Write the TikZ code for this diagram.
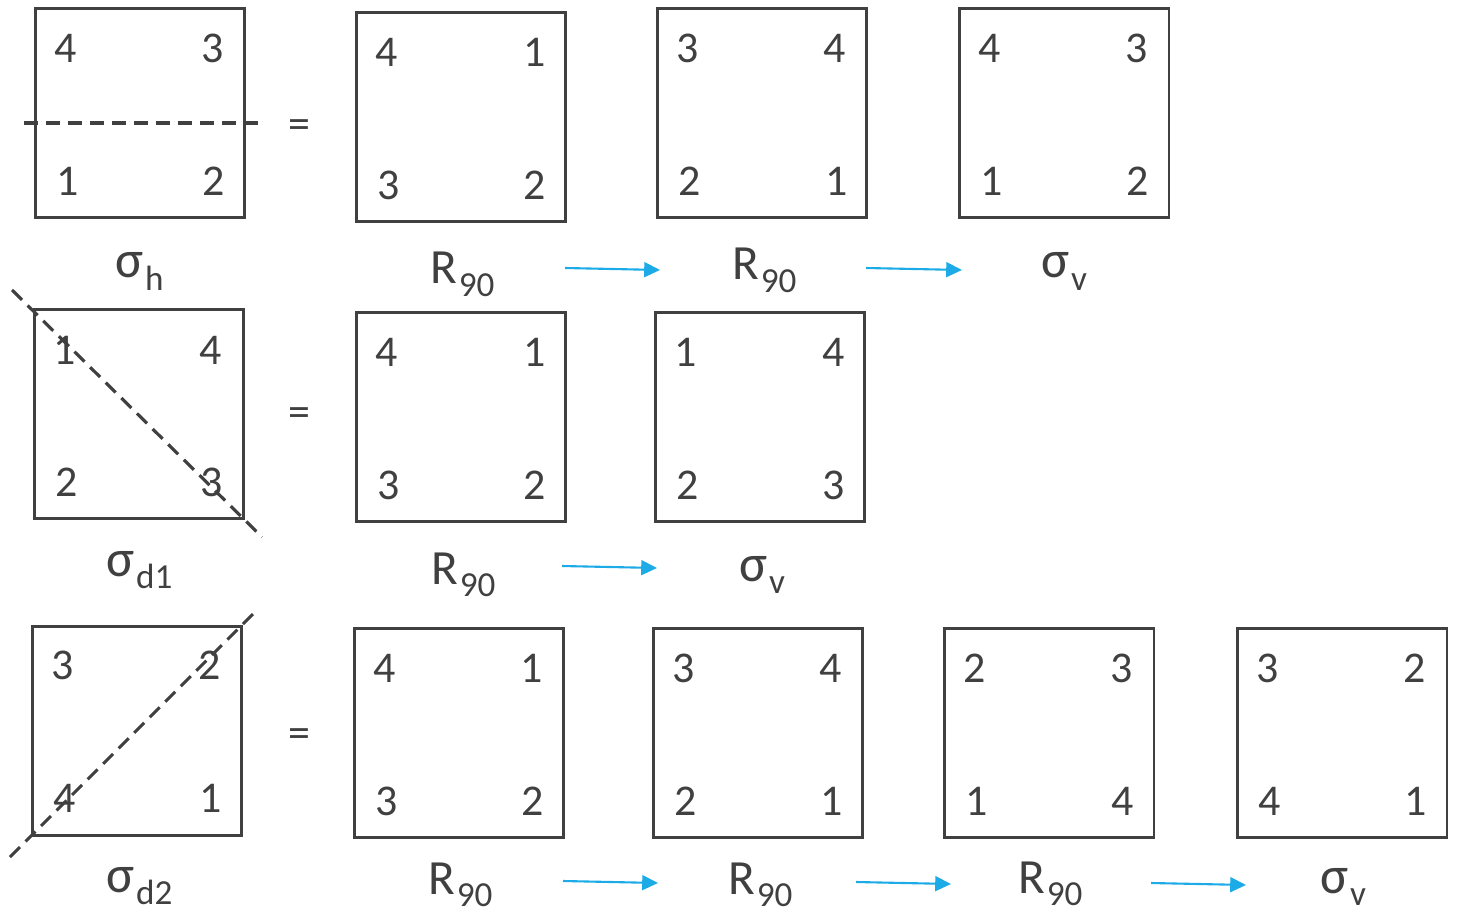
\documentclass[tikz,border=0pt]{standalone}
\usepackage{fontspec}
\setmainfont{Carlito}
\usetikzlibrary{arrows.meta}
\definecolor{ink}{HTML}{404040}
\definecolor{arr}{HTML}{1CABE6}
\tikzset{
  sq/.style={draw=ink, line width=1.7pt, minimum width=4.2cm, minimum height=4.2cm, inner sep=0pt},
  num/.style={text=ink, font=\fontsize{25}{30}\selectfont, inner sep=0pt},
  lab/.style={text=ink, font=\fontsize{28}{32}\selectfont, inner sep=0pt, anchor=base west},
  mir/.style={draw=ink, line width=1.8pt, dash pattern=on 8pt off 4.5pt},
  flow/.style={draw=arr, line width=1.2pt, -{Triangle[length=9pt,width=8.5pt]}},
}
\newcommand{\sub}[1]{\kern1pt\raisebox{-7pt}{\fontsize{20}{24}\selectfont #1}}
\newcommand{\sig}{{\fontsize{30}{32}\selectfont σ}}
\begin{document}
\begin{tikzpicture}[x=0.02cm,y=-0.02cm]
\useasboundingbox (0,0) rectangle (1463,915);
% ---------- row 1 ----------
\node[sq] (a1) at (140,113) {};
\draw[mir] (24,123) -- (262,123);
\node[num] (a1n1) at (66,48) {4};
\node[num] (a1n2) at (213,48) {3};
\node[num] (a1n3) at (68,181) {1};
\node[num] (a1n4) at (214,181) {2};
\node[num] (eq1) at (299,129) {=};
\node[sq] (a2) at (461,117) {};
\node[num] (a2n1) at (387,52) {4};
\node[num] (a2n2) at (535,52) {1};
\node[num] (a2n3) at (389,185) {3};
\node[num] (a2n4) at (535,185) {2};
\node[sq] (a3) at (762,113) {};
\node[num] (a3n1) at (688,48) {3};
\node[num] (a3n2) at (835,48) {4};
\node[num] (a3n3) at (690,181) {2};
\node[num] (a3n4) at (837,181) {1};
\node[sq] (a4) at (1064,113) {};
\node[num] (a4n1) at (990,48) {4};
\node[num] (a4n2) at (1137,48) {3};
\node[num] (a4n3) at (992,181) {1};
\node[num] (a4n4) at (1138,181) {2};
\node[lab] (la1) at (115,278) {\sig\sub{h}};
\node[lab] (la2) at (430,284) {R\sub{90}};
\node[lab] (la3) at (732,280) {R\sub{90}};
\node[lab] (la4) at (1041,278) {\sig\sub{v}};
\coordinate (p1s) at (565,268); \coordinate (p1e) at (660,270);
\coordinate (p2s) at (866,268); \coordinate (p2e) at (962,270);
\draw[flow] (p1s) -- (p1e);
\draw[flow] (p2s) -- (p2e);
% ---------- row 2 ----------
\node[sq] (b1) at (139,414) {};
\node[num] (b1n1) at (65,350) {1};
\node[num] (b1n2) at (211,350) {4};
\node[num] (b1n3) at (67,482) {2};
\node[num] (b1n4) at (212,482) {3};
\draw[mir] (12,290) -- (262,537);
\node[num] (eq2) at (299,417) {=};
\node[sq] (b2) at (461,417) {};
\node[num] (b2n1) at (387,352) {4};
\node[num] (b2n2) at (535,352) {1};
\node[num] (b2n3) at (389,485) {3};
\node[num] (b2n4) at (535,485) {2};
\node[sq] (b3) at (760,417) {};
\node[num] (b3n1) at (686,352) {1};
\node[num] (b3n2) at (834,352) {4};
\node[num] (b3n3) at (688,485) {2};
\node[num] (b3n4) at (834,485) {3};
\node[lab] (lb1) at (106,576) {\sig\sub{d1}};
\node[lab] (lb2) at (431,584) {R\sub{90}};
\node[lab] (lb3) at (739,581) {\sig\sub{v}};
\coordinate (q1s) at (562,566); \coordinate (q1e) at (657,568);
\draw[flow] (q1s) -- (q1e);
% ---------- row 3 ----------
\node[sq] (c1) at (137,731) {};
\node[num] (c1n1) at (63,665) {3};
\node[num] (c1n2) at (210,665) {2};
\node[num] (c1n3) at (65,798) {4};
\node[num] (c1n4) at (211,798) {1};
\draw[mir] (10,857) -- (257,610);
\node[num] (eq3) at (299,738) {=};
\node[sq] (c2) at (459,733) {};
\node[num] (c2n1) at (385,668) {4};
\node[num] (c2n2) at (532,668) {1};
\node[num] (c2n3) at (387,801) {3};
\node[num] (c2n4) at (533,801) {2};
\node[sq] (c3) at (758,733) {};
\node[num] (c3n1) at (684,668) {3};
\node[num] (c3n2) at (831,668) {4};
\node[num] (c3n3) at (686,801) {2};
\node[num] (c3n4) at (832,801) {1};
\node[sq] (c4) at (1049,733) {};
\node[num] (c4n1) at (975,668) {2};
\node[num] (c4n2) at (1122,668) {3};
\node[num] (c4n3) at (977,801) {1};
\node[num] (c4n4) at (1123,801) {4};
\node[sq] (c5) at (1342,733) {};
\node[num] (c5n1) at (1268,668) {3};
\node[num] (c5n2) at (1415,668) {2};
\node[num] (c5n3) at (1270,801) {4};
\node[num] (c5n4) at (1416,801) {1};
\node[lab] (lc1) at (106,892) {\sig\sub{d2}};
\node[lab] (lc2) at (428,894) {R\sub{90}};
\node[lab] (lc3) at (728,894) {R\sub{90}};
\node[lab] (lc4) at (1018,893) {R\sub{90}};
\node[lab] (lc5) at (1320,893) {\sig\sub{v}};
\coordinate (r1s) at (563,881); \coordinate (r1e) at (658,883);
\coordinate (r2s) at (856,882); \coordinate (r2e) at (951,884);
\coordinate (r3s) at (1151,883); \coordinate (r3e) at (1246,885);
\draw[flow] (r1s) -- (r1e);
\draw[flow] (r2s) -- (r2e);
\draw[flow] (r3s) -- (r3e);
\end{tikzpicture}
\end{document}
